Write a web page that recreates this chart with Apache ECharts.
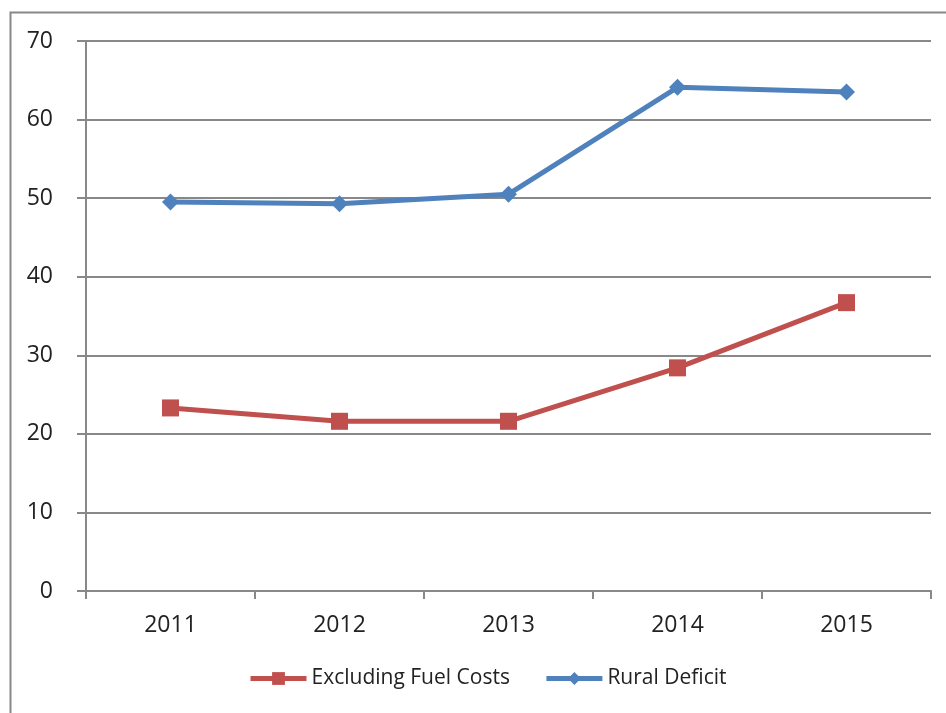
<!DOCTYPE html>
<html>
<head>
<meta charset="utf-8">
<script src="https://cdn.jsdelivr.net/npm/echarts@6/dist/echarts.min.js"></script>
<style>
  html, body { margin: 0; padding: 0; background: #fff; }
  #chart { width: 946px; height: 713px; }
</style>
</head>
<body>
<div id="chart"></div>
<script>
var years = ['2011', '2012', '2013', '2014', '2015'];
var excludingFuel = [23.3, 21.6, 21.6, 28.4, 36.7];
var ruralDeficit = [49.5, 49.3, 50.5, 64.1, 63.5];

var chart = echarts.init(document.getElementById('chart'));
var font = '"Open Sans", "Noto Sans", sans-serif';

chart.setOption({
    animation: false,
    textStyle: { fontFamily: font },
    graphic: [{
        type: 'rect',
        shape: { x: 10.5, y: 12.5, width: 1000, height: 800 },
        style: { fill: 'none', stroke: '#888', lineWidth: 2 },
        silent: true
    }],
    grid: { left: 86, right: 15, top: 41, bottom: 122 },
    legend: {
        top: 668,
        left: 248,
        padding: 0,
        itemWidth: 56,
        itemHeight: 16,
        itemGap: 34,
        lineStyle: { width: 5 },
        textStyle: { fontSize: 21, color: '#222', fontFamily: font },
        data: ['Excluding Fuel Costs', 'Rural Deficit']
    },
    xAxis: {
        type: 'category',
        data: years,
        boundaryGap: true,
        axisLine: { lineStyle: { color: '#888', width: 2 } },
        axisTick: { show: true, length: 8, lineStyle: { color: '#888', width: 2 } },
        axisLabel: { fontSize: 23, color: '#222', margin: 23 },
        splitLine: { show: false }
    },
    yAxis: {
        type: 'value',
        min: 0,
        max: 70,
        interval: 10,
        axisLine: { show: true, lineStyle: { color: '#888', width: 2 } },
        axisTick: { show: true, length: 9, lineStyle: { color: '#888', width: 2 } },
        axisLabel: { fontSize: 23, color: '#222', margin: 33 },
        splitLine: { show: true, lineStyle: { color: '#888', width: 2 } }
    },
    series: [{
        name: 'Excluding Fuel Costs',
        type: 'line',
        data: excludingFuel,
        symbol: 'rect',
        symbolSize: 17,
        itemStyle: { color: '#C0504D' },
        lineStyle: { color: '#C0504D', width: 5 }
    }, {
        name: 'Rural Deficit',
        type: 'line',
        data: ruralDeficit,
        symbol: 'diamond',
        symbolSize: 17,
        itemStyle: { color: '#4F81BD' },
        lineStyle: { color: '#4F81BD', width: 5 }
    }]
});
</script>
</body>
</html>
